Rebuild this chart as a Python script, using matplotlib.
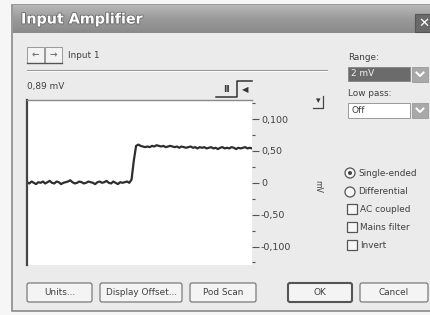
import matplotlib
matplotlib.use("Agg")
import matplotlib.pyplot as plt
from matplotlib.patches import Rectangle, Circle, FancyBboxPatch
from matplotlib.ticker import FixedLocator, FixedFormatter
from matplotlib.colors import LinearSegmentedColormap
import matplotlib.patheffects as pe
import numpy as np

# ---------------- data ----------------
baseline = [0.01, -0.01, 0.02, 0.00, -0.02, 0.01, 0.00, 0.02, -0.01, 0.01,
            0.03, 0.00, -0.01, 0.02, 0.01, -0.02, 0.00, 0.01, 0.02, 0.04,
            0.01, -0.01, 0.00, 0.02, 0.01, -0.01, 0.00, 0.02, 0.01, 0.00,
            -0.02, 0.01, 0.02, 0.00, 0.01, 0.03, 0.00, -0.01, 0.02, 0.00,
            -0.02, 0.01, 0.00, 0.01, 0.02, 0.00]
rise = [0.05, 0.35]
plateau = [0.58, 0.60, 0.58, 0.57, 0.56, 0.57, 0.56, 0.58, 0.57, 0.59,
           0.58, 0.57, 0.58, 0.56, 0.57, 0.58, 0.57, 0.56, 0.57, 0.55,
           0.57, 0.56, 0.55, 0.56, 0.57, 0.55, 0.56, 0.54, 0.56, 0.55,
           0.56, 0.54, 0.55, 0.56, 0.54, 0.55, 0.53, 0.55, 0.56, 0.54,
           0.55, 0.54, 0.56, 0.55, 0.53, 0.55, 0.54, 0.55, 0.56, 0.54,
           0.55, 0.54]
signal = baseline + rise + plateau

tick_values = [1.0, 0.5, 0.0, -0.5, -1.0]
tick_labels = ["0,100", "0,50", "0", "-0,50", "-0,100"]
minor_values = [1.25, 0.75, 0.25, -0.25, -0.75, -1.25]
y_limits = (-1.29, 1.30)

title = "Input Amplifier"
channel = "Input 1"
readout = "0,89 mV"
unit = "mV"
range_label, range_value = "Range:", "2 mV"
lowpass_label, lowpass_value = "Low pass:", "Off"
radios = [("Single-ended", True), ("Differential", False)]
checks = ["AC coupled", "Mains filter", "Invert"]
buttons = ["Units...", "Display Offset...", "Pod Scan", "OK", "Cancel"]

# ---------------- figure ----------------
W, H = 430, 315
fig = plt.figure(figsize=(W / 100, H / 100), dpi=100)
fig.patch.set_facecolor("#f6f6f6")
bg = fig.add_axes([0, 0, 1, 1])
bg.set_xlim(0, W)
bg.set_ylim(H, 0)
bg.axis("off")

FONT = "DejaVu Sans"
TXT = "#3f3f3f"
FS = 6.4

# dialog body
bg.add_patch(Rectangle((12, 5), 430, 306, facecolor="#ebebeb", edgecolor="#8a8a8a", lw=1.2))
# title bar gradient
title_cmap = LinearSegmentedColormap.from_list("tb", ["#b8b8b8", "#9a9a9a", "#8a8a8a"])
grad = np.linspace(0, 1, 50).reshape(-1, 1)
bg.imshow(grad, extent=(12.5, 430, 33, 5), cmap=title_cmap, vmin=0, vmax=1,
          aspect="auto", zorder=1)
bg.text(21, 19.5, title, fontsize=10.3, fontweight="bold", color="white",
        va="center", ha="left", family=FONT, zorder=3,
        path_effects=[pe.withStroke(linewidth=1.2, foreground="#6a6a6a")])
# close button
bg.add_patch(Rectangle((415, 14), 16, 18, facecolor="#6a6a6a", edgecolor="#555555", lw=0.8, zorder=2))
bg.text(423.5, 23.5, "✕", fontsize=9.5, fontweight="bold", color="white", ha="center", va="center", zorder=3)

# arrow buttons
for x0, arrow in [(27, "←"), (45, "→")]:
    bg.add_patch(Rectangle((x0, 47), 17, 16, facecolor="#f3f3f3", edgecolor="#9a9a9a", lw=0.7))
    bg.text(x0 + 8.5, 55, arrow, fontsize=6.5, color="#777777", ha="center", va="center", fontweight="bold")
bg.plot([27, 62], [63, 63], color="#555555", lw=1)
bg.text(68, 55, channel, fontsize=FS, color=TXT, ha="left", va="center", family=FONT)

# separator
bg.plot([27, 327], [70, 70], color="#9a9a9a", lw=0.8)
bg.plot([27, 327], [71, 71], color="#ffffff", lw=0.6)

bg.text(27, 87, readout, fontsize=FS, color=TXT, ha="left", va="center", family=FONT)

# pause / trigger widget
bg.plot([216, 237, 237, 252], [97, 97, 81, 81], color="#333333", lw=1.1)
bg.text(226, 89, "II", fontsize=6.5, fontweight="bold", color="#333333", ha="center", va="center")
bg.text(245, 89.5, "◀", fontsize=6, color="#333333", ha="center", va="center")

# small dropdown button
bg.text(318, 101, "▾", fontsize=6.5, color="#333333", ha="center", va="center")
bg.plot([313, 323, 323], [108, 108, 96], color="#444444", lw=0.9)

# right panel: dropdowns
bg.text(348, 58, range_label, fontsize=FS, color=TXT, ha="left", va="center", family=FONT)
bg.add_patch(Rectangle((348, 67), 62, 14, facecolor="#6b6b6b", edgecolor="#8a8a8a", lw=0.7))
bg.text(351, 74, range_value, fontsize=FS, color="#f2f2f2", ha="left", va="center", family=FONT)
bg.text(348, 94, lowpass_label, fontsize=FS, color=TXT, ha="left", va="center", family=FONT)
bg.add_patch(Rectangle((348, 103), 62, 15, facecolor="#ffffff", edgecolor="#9a9a9a", lw=0.7))
bg.text(351, 110.5, lowpass_value, fontsize=FS, color=TXT, ha="left", va="center", family=FONT)
for y0 in (67, 103):
    bg.add_patch(Rectangle((412, y0), 16, 14.5, facecolor="#a9a9a9", edgecolor="#9a9a9a", lw=0.6))
    bg.plot([416.5, 420, 423.5], [y0 + 5.5, y0 + 9, y0 + 5.5], color="white", lw=1.4)

# radios
for (label, sel), yc in zip(radios, [173, 192]):
    bg.add_patch(Circle((350, yc), 5, facecolor="#f7f7f7", edgecolor="#555555", lw=0.9))
    if sel:
        bg.add_patch(Circle((350, yc), 2, facecolor="#444444", edgecolor="none"))
    bg.text(358, yc, label, fontsize=FS, color=TXT, ha="left", va="center", family=FONT)
# checkboxes
for label, yc in zip(checks, [209, 227, 245]):
    bg.add_patch(Rectangle((347, yc - 5), 10, 10, facecolor="#f7f7f7", edgecolor="#555555", lw=0.9))
    bg.text(360, yc, label, fontsize=FS, color=TXT, ha="left", va="center", family=FONT)

# units label
bg.text(318, 186, unit, fontsize=5.6, color=TXT, ha="center", va="center", rotation=270, family=FONT)

# bottom buttons
btn_x = [(27, 92), (100, 182), (190, 256), (288, 352), (360, 428)]
for (x0, x1), label in zip(btn_x, buttons):
    default = label == "OK"
    bg.add_patch(FancyBboxPatch((x0, 283), x1 - x0, 19, boxstyle="round,pad=0,rounding_size=2",
                                facecolor="#f4f4f4", edgecolor="#555555" if default else "#7a7a7a",
                                lw=1.5 if default else 0.9))
    bg.text((x0 + x1) / 2, 292.5, label, fontsize=FS, color=TXT, ha="center", va="center", family=FONT)

# ---------------- plot area ----------------
px0, px1, py0, py1 = 27, 252, 100, 265
ax = fig.add_axes([px0 / W, 1 - py1 / H, (px1 - px0) / W, (py1 - py0) / H])
ax.set_facecolor("white")
ax.plot(range(len(signal)), signal, color="#2e2e2e", lw=1.6, solid_joinstyle="round")
ax.set_xlim(0, len(signal) - 1)
ax.set_ylim(*y_limits)
ax.set_xticks([])
ax.yaxis.tick_right()
ax.yaxis.set_major_locator(FixedLocator(tick_values))
ax.yaxis.set_major_formatter(FixedFormatter(tick_labels))
ax.yaxis.set_minor_locator(FixedLocator(minor_values))
ax.tick_params(axis="y", which="major", direction="out", length=5, width=0.8,
               color="#555555", labelsize=6.8, labelcolor=TXT, pad=1.5)
ax.tick_params(axis="y", which="minor", direction="out", length=2.5, width=0.8, color="#555555")
for s in ("right", "bottom"):
    ax.spines[s].set_visible(False)
ax.spines["left"].set_color("#444444")
ax.spines["left"].set_linewidth(1.6)
ax.spines["top"].set_color("#8a8a8a")
ax.spines["top"].set_linewidth(1.0)

fig.savefig("out.png", dpi=100, facecolor=fig.get_facecolor())
